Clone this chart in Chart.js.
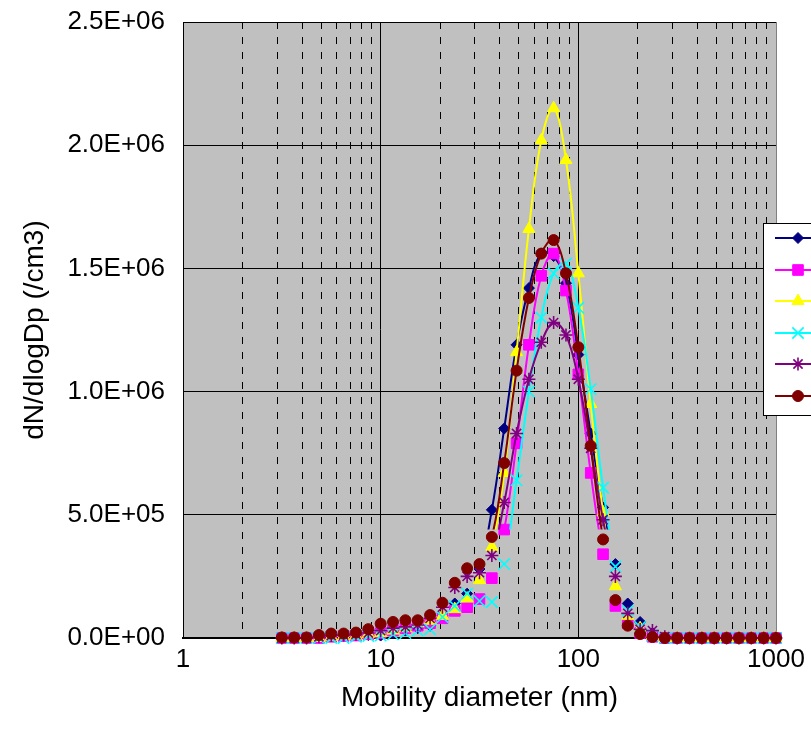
<!DOCTYPE html>
<html><head><meta charset="utf-8">
<script src="https://cdn.jsdelivr.net/npm/chart.js@4.4.0/dist/chart.umd.min.js"></script>
<style>html,body{margin:0;padding:0;background:#fff;}#wrap{width:811px;height:742px;}</style>
</head><body><div id="wrap"><canvas id="c" width="811" height="742"></canvas></div>
<script>
// Mobility diameters (nm), 16 channels per decade
const diameters = [3.162,3.652,4.217,4.870,5.623,6.494,7.499,8.660,10.00,11.55,13.34,15.40,17.78,20.54,23.71,27.38,
  31.62,36.52,42.17,48.70,56.23,64.94,74.99,86.60,100.0,115.5,133.4,154.0,177.8,205.4,237.1,273.8,
  316.2,365.2,421.7,487.0,562.3,649.4,749.9,866.0,1000];

const seriesLabels = ['Series 1','Series 2','Series 3','Series 4','Series 5','Series 6'];

const navyValues = [0,0,0,5e3,8e3,1.0e4,1.0e4,1.2e4,1.0e4,2.0e4,3.0e4,4.0e4,5.0e4,9.0e4,1.4e5,1.8e5,
  2.8e5,5.2e5,8.5e5,1.19e6,1.42e6,1.56e6,1.55e6,1.44e6,1.15e6,8.3e5,5.3e5,3.0e5,1.4e5,6.5e4,2.0e4,5e3,
  0,0,0,0,0,0,0,0,0];
const magentaValues = [0,0,0,0,5e3,8e3,1.0e4,1.5e4,2.0e4,3.0e4,4.0e4,5.0e4,6.0e4,8.0e4,1.1e5,1.25e5,
  1.58e5,2.43e5,4.4e5,7.9e5,1.19e6,1.47e6,1.56e6,1.41e6,1.07e6,6.7e5,3.4e5,1.3e5,6.0e4,2.0e4,5e3,0,
  0,0,0,0,0,0,0,0,0];
const yellowValues = [0,0,0,0,5e3,8e3,1.0e4,1.5e4,2.0e4,3.0e4,4.0e4,6.0e4,7.0e4,9.0e4,1.17e5,1.6e5,
  2.35e5,3.7e5,6.7e5,1.16e6,1.66e6,2.02e6,2.15e6,1.94e6,1.48e6,9.5e5,5.1e5,2.1e5,9.0e4,4.0e4,1.0e4,0,
  0,0,0,0,0,0,0,0,0];
const cyanValues = [0,0,0,0,0,0,5e3,8e3,1.0e4,1.5e4,2.0e4,3.0e4,3.5e4,8.5e4,1.3e5,1.8e5,
  1.5e5,1.46e5,3.0e5,6.4e5,1.0e6,1.30e6,1.48e6,1.52e6,1.34e6,1.01e6,6.1e5,2.9e5,1.1e5,4.5e4,1.0e4,0,
  0,0,0,0,0,0,0,0,0];
const purpleValues = [0,0,0,5e3,1.0e4,1.2e4,1.5e4,2.0e4,3.0e4,4.0e4,4.5e4,5.3e4,8.0e4,1.25e5,2.05e5,2.5e5,
  2.65e5,3.35e5,5.5e5,8.3e5,1.05e6,1.20e6,1.28e6,1.23e6,1.05e6,7.7e5,4.8e5,2.5e5,1.0e5,3.5e4,3.0e4,5e3,
  0,0,0,0,0,0,0,0,0];
const darkRedValues = [2e3,2e3,2e3,1.2e4,1.8e4,1.8e4,2.2e4,3.6e4,5.8e4,6.5e4,7.2e4,7.2e4,9.3e4,1.43e5,2.24e5,2.83e5,
  3.0e5,4.1e5,7.1e5,1.085e6,1.38e6,1.56e6,1.615e6,1.48e6,1.18e6,7.8e5,4.0e5,1.54e5,5.0e4,1.6e4,4e3,0,
  0,0,0,0,0,0,0,0,0];

const yTickValues = [0, 5e5, 1e6, 1.5e6, 2e6, 2.5e6];
const xDecades = [1, 10, 100, 1000];
const LINE_FLOOR = 4.4e5; // connecting lines are only visible above this level

const seriesValues = [navyValues, magentaValues, yellowValues, cyanValues, purpleValues, darkRedValues];
const seriesColors = ['#000080','#FF00FF','#FFFF00','#00FFFF','#800080','#800000'];
const seriesStyles = ['rectRot','rect','triangle','crossRot','star','circle'];
const seriesRadius = [5.5,7.5,7,8,6.5,5.5];
const seriesBorder = [1,1,1,1.6,1.6,1];

const datasets = [];
seriesValues.forEach((vals, i) => {
  const pts = diameters.map((d, k) => ({x: d, y: vals[k]}));
  datasets.push({
    label: seriesLabels[i] + ' line', isLine: true, data: pts,
    showLine: true, borderColor: seriesColors[i], backgroundColor: seriesColors[i],
    borderWidth: 2, pointRadius: 0, pointHoverRadius: 0, tension: 0.4,
    order: (6 - i) * 2 + 1, clip: false
  });
  datasets.push({
    label: seriesLabels[i], data: pts, showLine: false,
    borderColor: seriesColors[i], backgroundColor: seriesColors[i],
    pointStyle: seriesStyles[i], pointRadius: seriesRadius[i], pointBorderWidth: seriesBorder[i],
    pointHoverRadius: seriesRadius[i], order: (6 - i) * 2, clip: false
  });
});

const FONT = "'Liberation Sans', Arial, sans-serif";

const bgPlugin = {
  id: 'bg',
  beforeDraw(chart) {
    const {ctx, chartArea: a} = chart;
    ctx.save();
    ctx.fillStyle = '#FFFFFF';
    ctx.fillRect(0, 0, chart.width, chart.height);
    ctx.fillStyle = '#C0C0C0';
    ctx.fillRect(a.left, a.top, a.right - a.left, a.bottom - a.top);
    ctx.restore();
  }
};

const clipPlugin = {
  id: 'lineclip',
  beforeDatasetDraw(chart, args) {
    const ds = chart.data.datasets[args.index];
    if (!ds.isLine) return;
    const ctx = chart.ctx, a = chart.chartArea;
    const yCut = chart.scales.y.getPixelForValue(LINE_FLOOR);
    ctx.save();
    ctx.beginPath();
    ctx.rect(a.left - 20, a.top - 20, a.right - a.left + 40, yCut - a.top + 20);
    ctx.clip();
  },
  afterDatasetDraw(chart, args) {
    const ds = chart.data.datasets[args.index];
    if (ds.isLine) chart.ctx.restore();
  }
};

const legendPlugin = {
  id: 'customLegend',
  afterDraw(chart) {
    const ctx = chart.ctx;
    const bx = 763, by = 223, bh = 192;
    ctx.save();
    ctx.fillStyle = '#FFFFFF';
    ctx.fillRect(bx, by, 100, bh);
    ctx.strokeStyle = '#000000';
    ctx.lineWidth = 1;
    ctx.strokeRect(bx + 0.5, by + 0.5, 100, bh);
    for (let i = 0; i < 6; i++) {
      const y = Math.round(238 + i * 31.5);
      ctx.strokeStyle = seriesColors[i];
      ctx.lineWidth = 2;
      ctx.beginPath();
      ctx.moveTo(775, y);
      ctx.lineTo(820, y);
      ctx.stroke();
      ctx.fillStyle = seriesColors[i];
      ctx.strokeStyle = seriesColors[i];
      ctx.lineWidth = seriesBorder[i];
      Chart.helpers.drawPoint(ctx, {pointStyle: seriesStyles[i], radius: seriesRadius[i], rotation: 0, borderWidth: seriesBorder[i]}, 798, y);
    }
    ctx.restore();
  }
};

new Chart(document.getElementById('c'), {
  type: 'scatter',
  data: { datasets },
  options: {
    responsive: false, animation: false, devicePixelRatio: 1,
    layout: { padding: { left: 0, top: 22, right: 35, bottom: 0 } },
    plugins: { legend: { display: false }, tooltip: { enabled: false } },
    scales: {
      x: {
        type: 'logarithmic', min: 1, max: 1000,
        afterFit(s) { s.height = 104; s.paddingLeft = 0; s.paddingRight = 0; },
        afterBuildTicks(s) {
          const t = [];
          for (let d = 1; d < 1000; d *= 10) for (let m = 1; m < 10; m++) t.push({value: m * d});
          t.push({value: 1000});
          s.ticks = t;
        },
        ticks: {
          autoSkip: false, maxRotation: 0, padding: 6, color: '#000',
          font: { family: FONT, size: 26 },
          callback: (v) => xDecades.includes(v) ? String(v) : ''
        },
        grid: {
          drawTicks: false,
          color: (c) => (c.tick && c.tick.value === 1000) ? '#808080' : '#000000',
          lineWidth: 1
        },
        border: {
          display: true, color: '#000', width: 2,
          dash: (c) => (c.tick && xDecades.includes(c.tick.value)) ? [] : [7, 8]
        },
        title: { display: true, text: 'Mobility diameter (nm)', color: '#000',
          font: { family: FONT, size: 28 }, padding: { top: 0, bottom: 27 } }
      },
      y: {
        type: 'linear', min: 0, max: 2.5e6,
        afterFit(s) { s.width = 183; s.paddingTop = 0; s.paddingBottom = 0; },
        afterBuildTicks(s) { s.ticks = yTickValues.map(v => ({value: v})); },
        ticks: {
          padding: 18, color: '#000', font: { family: FONT, size: 26 },
          callback: (v) => {
            const [m, e] = Number(v).toExponential(1).split('e');
            const n = parseInt(e, 10);
            return m + 'E' + (n < 0 ? '-' : '+') + String(Math.abs(n)).padStart(2, '0');
          }
        },
        grid: { drawTicks: false, color: '#000', lineWidth: 1 },
        border: { display: true, color: '#000', width: 1 },
        title: { display: true, text: 'dN/dlogDp (/cm3)', color: '#000',
          font: { family: FONT, size: 28 }, padding: { top: 18, bottom: 0 } }
      }
    }
  },
  plugins: [bgPlugin, clipPlugin, legendPlugin]
});
</script></body></html>
